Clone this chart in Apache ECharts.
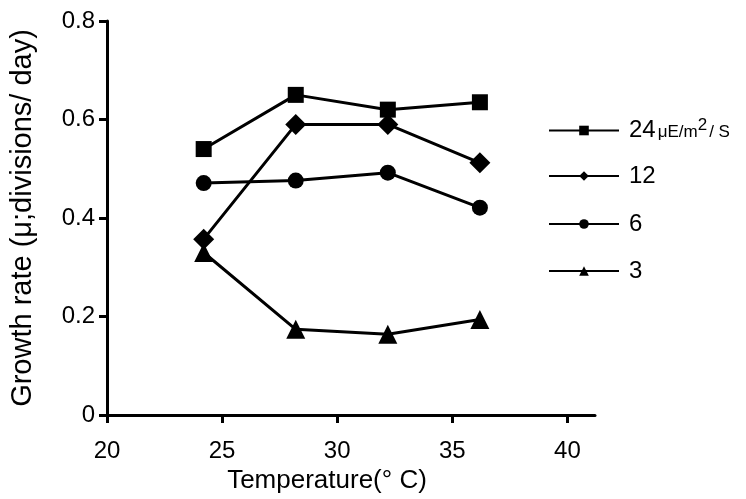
<!DOCTYPE html>
<html>
<head>
<meta charset="utf-8">
<script src="https://cdn.jsdelivr.net/npm/echarts@6/dist/echarts.min.js"></script>
<style>
html,body{margin:0;padding:0;background:#fff;}
#chart{width:746px;height:499px;}
</style>
</head>
<body>
<div id="chart"></div>
<script type="text/javascript">
// temperature (x) and growth rate per light level
var temps = [24.2, 28.2, 32.2, 36.2];
var light24 = [0.540, 0.650, 0.620, 0.635];
var light12 = [0.357, 0.590, 0.590, 0.512];
var light6 = [0.471, 0.476, 0.492, 0.421];
var light3 = [0.330, 0.174, 0.164, 0.194];
var seriesNames = ['24', '12', '6', '3'];
var xTicks = [20, 25, 30, 35, 40];
var yTicks = [0, 0.2, 0.4, 0.6, 0.8];

var font = '"Liberation Sans", Arial, sans-serif';

function pairs(vals){
	var out = [];
	for(var i=0;i<temps.length;i++){
		out.push([temps[i], vals[i]]);
	}
	return out;
}

function mkSeries(name, vals, symbol, size){
	return {
		name: name,
		type: 'line',
		data: pairs(vals),
		symbol: symbol,
		symbolSize: size,
		showAllSymbol: true,
		lineStyle: {color:'#000', width:3},
		itemStyle: {color:'#000'},
		emphasis: {disabled:true}
	};
}

// one legend block per row so the rows sit where the reference has them
var legendRows = [112, 159, 207, 254];
var legends = [];
for(var i=0;i<seriesNames.length;i++){
	legends.push({
		orient: 'vertical',
		left: 543,
		top: legendRows[i],
		itemWidth: 70,
		itemHeight: 12,
		data: [seriesNames[i]],
		formatter: function(name){
			if(name == '24') return '{n|24}{u|μE/m}{sup|2}{u|/ S}';
			return name;
		},
		textStyle: {
			fontFamily: font,
			fontSize: 24,
			lineHeight: 12,
			color: '#000',
			padding: [0,0,0,5],
			rich: {
				n: {fontFamily: font, fontSize: 24, lineHeight: 12, color:'#000'},
				u: {fontFamily: font, fontSize: 17, lineHeight: 12, color:'#000', padding:[4,0,0,2]},
				sup: {fontFamily: font, fontSize: 17, lineHeight: 12, color:'#000', padding:[0,0,10,0]}
			}
		}
	});
}

var myChart = echarts.init(document.getElementById('chart'));
myChart.setOption({
	animation: false,
	textStyle: {fontFamily: font},
	grid: {left:107, right:151, top:21, bottom:84},
	legend: legends,
	xAxis: {
		type: 'value',
		min: 20,
		max: 41.2,
		interval: 5,
		name: 'Temperature(° C)',
		nameLocation: 'middle',
		nameGap: 52,
		nameTextStyle: {fontFamily: font, fontSize: 26, color:'#000', padding:[0,48,0,0]},
		splitLine: {show:false},
		axisLine: {show:true, lineStyle:{color:'#000', width:3}},
		axisTick: {show:true, length:8, customValues: xTicks, lineStyle:{color:'#000', width:3}},
		axisLabel: {customValues: xTicks, fontFamily: font, fontSize: 24, color:'#000', margin: 24}
	},
	yAxis: {
		type: 'value',
		min: 0,
		max: 0.8,
		interval: 0.2,
		name: 'Growth rate (μ;divisions/ day)',
		nameLocation: 'middle',
		nameGap: 70,
		nameTextStyle: {fontFamily: font, fontSize: 29, color:'#000'},
		splitLine: {show:false},
		axisLine: {show:true, lineStyle:{color:'#000', width:3}},
		axisTick: {show:true, length:8, lineStyle:{color:'#000', width:3}},
		axisLabel: {
			fontFamily: font, fontSize: 24, color:'#000', margin: 12,
			formatter: function(v){ return v == 0 ? '0' : v.toFixed(1); }
		}
	},
	series: [
		mkSeries('24', light24, 'rect', 16),
		mkSeries('12', light12, 'diamond', 21),
		mkSeries('6', light6, 'circle', 16),
		mkSeries('3', light3, 'triangle', 19)
	]
});
</script>
</body>
</html>
